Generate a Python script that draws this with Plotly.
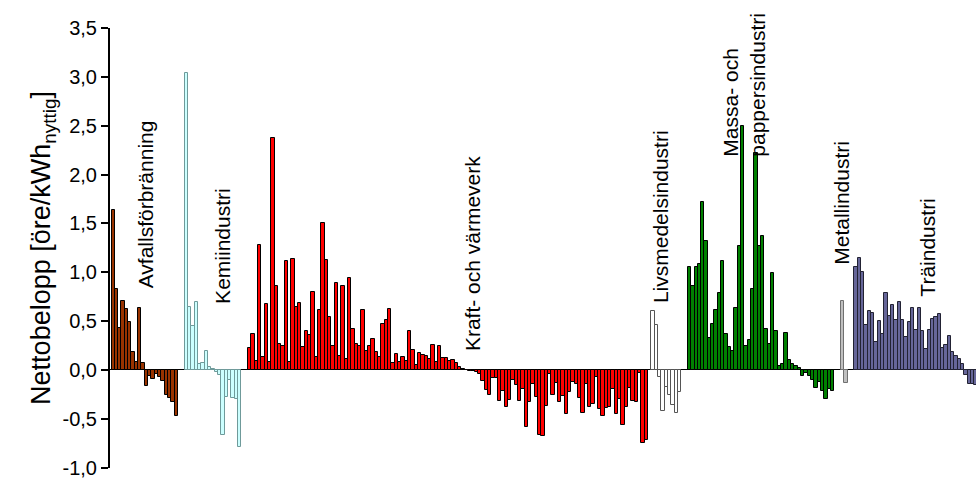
import plotly.graph_objects as go

# ---- data (öre/kWh nyttig) ----
avfall = [1.64, 0.83, 0.43, 0.71, 0.62, 0.49, 0.18, 0.08, 0.63, 0.07,
          -0.16, -0.06, -0.09, -0.04, -0.07, -0.11, -0.26, -0.29, -0.33, -0.47]
kemi = [3.04, 0.64, 0.45, 0.70, 0.06, 0.07, 0.19, 0.03, 0.01,
        -0.02, -0.05, -0.67, -0.28, -0.10, -0.29, -0.30, -0.79]
kraft = [0.22, 0.37, 0.09, 1.28, 0.13, 0.67, 0.08, 2.37, 0.86, 0.27,
         0.25, 1.12, 0.08, 1.14, 0.64, 0.68, 0.23, 0.40, 0.36, 0.80,
         0.13, 0.61, 1.50, 1.13, 0.54, 0.25, 0.89, 0.14, 0.86, 0.11,
         0.94, 0.42, 0.27, 0.25, 0.61, 0.19, 0.25, 0.32, 0.18, 0.13,
         0.47, 0.51, 0.62, 0.07, 0.16, 0.08, 0.13, 0.09, 0.40, 0.20,
         0.05, 0.17, 0.15, 0.14, 0.11, 0.26, 0.08, 0.24, 0.12, 0.12,
         0.09, 0.10, 0.07, 0.03, 0.01, 0.00, -0.01, -0.01, -0.02, -0.04,
         -0.11, -0.21, -0.26, -0.08, -0.08, -0.32, -0.22, -0.38, -0.31, -0.10,
         -0.15, -0.32, -0.20, -0.58, -0.33, -0.14, -0.28, -0.67, -0.68, -0.37,
         -0.04, -0.26, -0.13, -0.33, -0.27, -0.45, -0.23, -0.12, -0.14, -0.29,
         -0.44, -0.14, -0.38, -0.35, -0.07, -0.40, -0.47, -0.39, -0.38, -0.20,
         -0.45, -0.30, -0.56, -0.38, -0.18, -0.32, -0.33, -0.03, -0.75, -0.72]
livsmedel = [0.60, 0.46, -0.07, -0.42, -0.17, -0.26, -0.36, -0.44, -0.23]
massa = [1.05, 0.86, 1.05, 1.08, 1.72, 1.32, 0.33, 0.47, 0.61, 0.79,
         1.12, 0.37, 0.23, 0.19, 0.63, 1.27, 2.50, 0.25, 0.31, 0.83,
         2.22, 1.27, 1.37, 0.42, 0.27, 0.99, 0.40, 0.04, 0.06, 0.38,
         0.10, 0.06, 0.04, 0.02, -0.06, -0.03, -0.06, -0.10, -0.19, -0.12,
         -0.22, -0.30, -0.20, -0.22]
metall = [0.71, -0.13]
tra = [1.05, 1.15, 1.00, 0.46, 0.60, 0.58, 0.29, 0.50, 0.37, 0.79,
       0.55, 0.66, 0.51, 0.70, 0.51, 0.34, 0.49, 0.63, 0.41, 0.63,
       0.40, 0.21, 0.41, 0.52, 0.54, 0.57, 0.22, 0.26, 0.35, 0.18,
       0.14, 0.11, 0.06, -0.05, -0.14, -0.14, -0.15]

groups = ["Avfallsförbränning", "Kemiindustri", "Kraft- och värmeverk",
          "Livsmedelsindustri", "Massa- och<br>pappersindustri",
          "Metallindustri", "Träindustri"]
series = [avfall, kemi, kraft, livsmedel, massa, metall, tra]

tick_vals = [-1.0, -0.5, 0.0, 0.5, 1.0, 1.5, 2.0, 2.5, 3.0, 3.5]
tick_text = ["-1,0", "-0,5", "0,0", "0,5", "1,0", "1,5", "2,0", "2,5", "3,0", "3,5"]

# ---- styling ----
fills = ["#993300", "#CCFFFF", "#FF0000", "#FFFFFF", "#008000", "#C0C0C0", "#666699"]
edges = ["#000000", "#6F9A9A", "#000000", "#555555", "#000000", "#707070", "#222233"]
gaps_before = [0, 2, 2, 1, 2, 2, 2]

fig = go.Figure()
start = 0
for vals, fc, ec, gap in zip(series, fills, edges, gaps_before):
    start += gap
    xs = list(range(start, start + len(vals)))
    fig.add_trace(go.Bar(x=xs, y=vals, marker=dict(color=fc, line=dict(color=ec, width=1)),
                         width=1.0, hoverinfo="skip"))
    start += len(vals)

font_family = "Liberation Sans, Arial, sans-serif"

# label anchors (data coords)
label_pos = [(9.7, 0.82), (32.8, 0.66), (108.1, 0.17), (164.5, 0.66),
             (189.3, 2.16), (218.6, 1.06), (244.6, 0.73)]
for txt, (lx, ly) in zip(groups, label_pos):
    fig.add_annotation(x=lx, y=ly, xref="x", yref="y", text=txt, textangle=-90,
                       showarrow=False, xanchor="center", yanchor="bottom", align="left",
                       font=dict(family=font_family, size=21, color="black"))

fig.update_layout(
    width=976, height=479,
    margin=dict(l=110, r=0, t=28, b=8),
    paper_bgcolor="white", plot_bgcolor="white",
    showlegend=False, bargap=0, barmode="overlay",
    font=dict(family=font_family, color="black"),
    xaxis=dict(visible=False, range=[-0.95, 259.0]),
    yaxis=dict(range=[-1.004, 3.5], tickmode="array", tickvals=tick_vals, ticktext=tick_text,
               ticklabeloverflow="allow",
               showline=True, linecolor="black", linewidth=2,
               ticks="outside", ticklen=7, tickwidth=2, tickcolor="black",
               showgrid=False, zeroline=True, zerolinecolor="black", zerolinewidth=1,
               tickfont=dict(size=20, family=font_family),
               title=dict(text="Nettobelopp [öre/kWh<sub>nyttig</sub>]",
                          font=dict(size=27, family=font_family), standoff=4)),
)

fig.write_html("out.html")
